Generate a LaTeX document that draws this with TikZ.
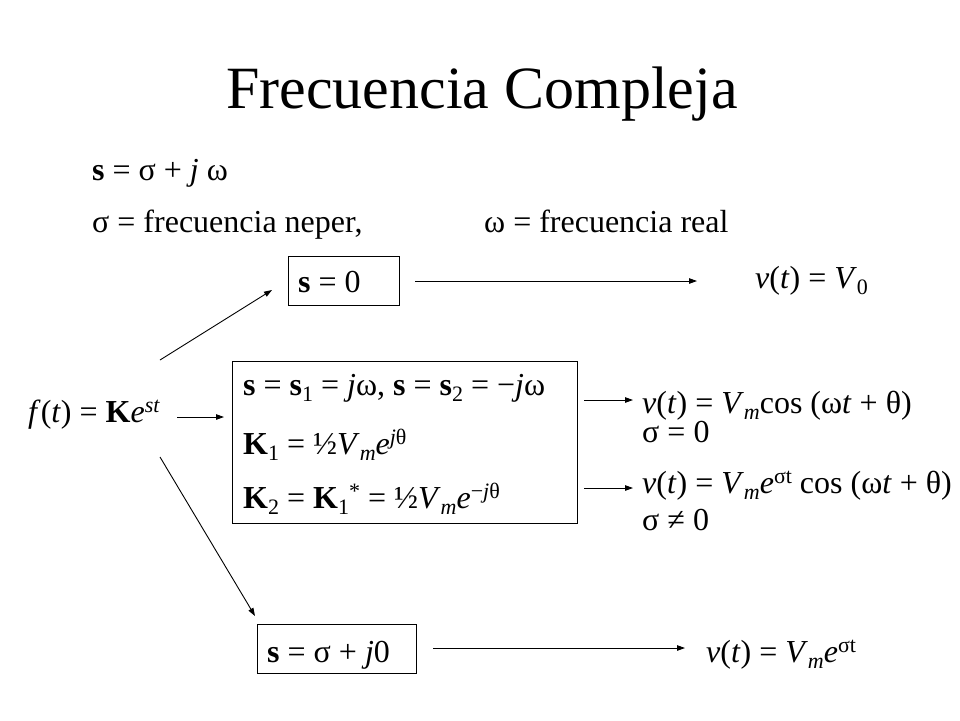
\documentclass[tikz,border=0pt]{standalone}
\usepackage{fontspec}
\setmainfont{Liberation Serif}
\usetikzlibrary{arrows.meta}
\newcommand{\vi}[1]{\textit{#1}}
\newcommand{\sbs}[1]{\raisebox{-6pt}{\fontsize{22}{22}\selectfont #1}}
\newcommand{\sps}[1]{\raisebox{10pt}{\fontsize{22}{22}\selectfont #1}}
\begin{document}
\begin{tikzpicture}[x=1pt,y=-1pt,
  txt/.style={anchor=base west, inner sep=0pt, font=\fontsize{32}{38}\selectfont},
  box/.style={draw, line width=1.2pt, inner sep=0pt, anchor=north west},
  arr/.style={-{Triangle[length=8pt,width=5.5pt]}, line width=0.9pt}]
\useasboundingbox[fill=white] (0,0) rectangle (960,720);
\node[anchor=base, inner sep=0pt, font=\fontsize{60}{70}\selectfont] (title) at (482,108) {Frecuencia Compleja};
\node[txt] (sdef) at (92,180) {\textbf{s} = σ + \vi{j} ω};
\node[txt] (neper) at (92,232) {σ = frecuencia neper,};
\node[txt] (real) at (484,232) {ω = frecuencia real};
% boxes
\node[box, minimum width=111pt, minimum height=49pt] (b0) at (288,256) {};
\node[txt] (t0) at (298,292) {\textbf{s} = 0};
\node[box, minimum width=345pt, minimum height=162pt] (b1) at (232,361) {};
\node[txt] (t1a) at (243,395) {\textbf{s} = \textbf{s}\sbs{1} = \vi{j}ω, \textbf{s} = \textbf{s}\sbs{2} = −\vi{j}ω};
\node[txt] (t1b) at (243,454) {\textbf{K}\sbs{1} = ½\vi{V}\sbs{\vi{m}}\vi{e}\sps{\vi{j}θ}};
\node[txt] (t1c) at (243,508) {\textbf{K}\sbs{2} = \textbf{K}\sbs{1}\sps{*} = ½\vi{V}\sbs{\vi{m}}\vi{e}\sps{−\vi{j}θ}};
\node[box, minimum width=159pt, minimum height=49pt] (b2) at (257,624) {};
\node[txt] (t2) at (267,662) {\textbf{s} = σ + \vi{j}0};
% left
\node[txt] (f) at (28,422) {\vi{f}(\vi{t}) = \textbf{K}\vi{e}\sps{\vi{st}}};
% right
\node[txt] (v0) at (755,288) {\vi{v}(\vi{t}) = \vi{V}\sbs{0}};
\node[txt] (va) at (642,413) {\vi{v}(\vi{t}) = \vi{V}\sbs{\vi{m}}cos (ω\vi{t} + θ)};
\node[txt] (sa) at (642,442) {σ = 0};
\node[txt] (vb) at (642,493) {\vi{v}(\vi{t}) = \vi{V}\sbs{\vi{m}}\vi{e}\sps{σt} cos (ω\vi{t} + θ)};
\node[txt] (sb) at (642,530) {σ ≠ 0};
\node[txt] (vc) at (706,662) {\vi{v}(\vi{t}) = \vi{V}\sbs{\vi{m}}\vi{e}\sps{σt}};
% arrow ends
\coordinate (a1s) at (160,360); \coordinate (a1e) at (272,290);
\coordinate (a2s) at (177,417); \coordinate (a2e) at (224,417);
\coordinate (a3s) at (160,457); \coordinate (a3e) at (255,616);
\coordinate (a4s) at (415,281); \coordinate (a4e) at (697,281);
\coordinate (a5s) at (584,400); \coordinate (a5e) at (633,400);
\coordinate (a6s) at (584,488); \coordinate (a6e) at (633,488);
\coordinate (a7s) at (433,648); \coordinate (a7e) at (685,648);
\draw[arr] (a1s) -- (a1e);
\draw[arr] (a2s) -- (a2e);
\draw[arr] (a3s) -- (a3e);
\draw[arr] (a4s) -- (a4e);
\draw[arr] (a5s) -- (a5e);
\draw[arr] (a6s) -- (a6e);
\draw[arr] (a7s) -- (a7e);
\end{tikzpicture}
\end{document}
